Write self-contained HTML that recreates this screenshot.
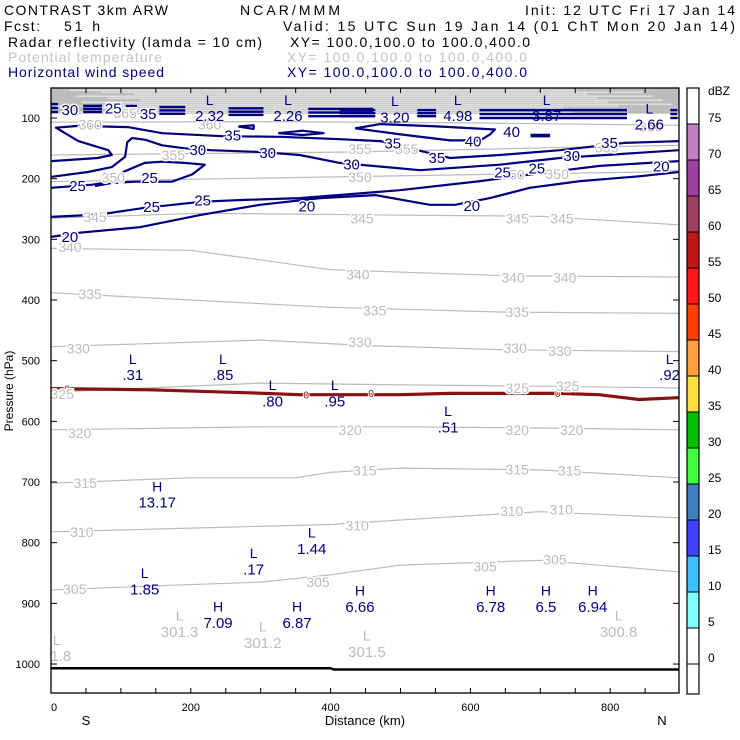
<!DOCTYPE html>
<html><head><meta charset="utf-8"><style>
body{margin:0;background:#fff;}
svg{display:block;font-family:"Liberation Sans",sans-serif;}
</style></head><body>
<svg id="c" width="740" height="740" viewBox="0 0 740 740">
<g font-size="14" lengthAdjust="spacing">
<text x="4" y="15" textLength="164">CONTRAST  3km ARW</text>
<text x="240" y="15" textLength="100">NCAR/MMM</text>
<text x="525" y="15" textLength="210">Init: 12 UTC Fri 17 Jan 14</text>
<text x="4" y="31" textLength="36">Fcst:</text>
<text x="64" y="31" textLength="36">51 h</text>
<text x="283" y="31" textLength="452">Valid: 15 UTC Sun 19 Jan 14 (01 ChT Mon 20 Jan 14)</text>
<text x="8" y="47" textLength="254">Radar reflectivity (lamda = 10 cm)</text>
<text x="290" y="47" textLength="240">XY= 100.0,100.0 to 100.0,400.0</text>
<text x="8" y="62" textLength="154" fill="#c4c4c4">Potential temperature</text>
<text x="287" y="62" textLength="240" fill="#c4c4c4">XY= 100.0,100.0 to 100.0,400.0</text>
<text x="8" y="77" textLength="156" fill="#000080">Horizontal wind speed</text>
<text x="287" y="77" textLength="240" fill="#000080">XY= 100.0,100.0 to 100.0,400.0</text>
</g>
<g id="plot"></g>
</svg>
<script>
// ---- data ----
const xTicksMinor=[0,50,100,150,200,250,300,350,400,450,500,550,600,650,700,750,800,850];
const xTickLabels=[0,200,400,600,800];
const pTicks=[100,200,300,400,500,600,700,800,900,1000];
const cbLevels=[75,70,65,60,55,50,45,40,35,30,25,20,15,10,5,0];
const cbColors=["#c080c0","#a040a0","#a04060","#c01818","#ff1818","#ff4000","#ffa040","#ffe040","#00c000","#40ff40","#4080c0","#4040ff","#40c0ff","#80ffff","#ffffff","#ffffff"];
const thetaLevels=[360,355,350,345,340,335,330,325,320,315,310,305];
const t360=[[0,107],[300,106],[600,108],[898,112]];
const t355=[[0,161],[430,156],[715,149],[898,145]];
const t350=[[0,205],[300,199],[570,194],[858,189],[898,186]];
const t345=[[0,265],[215,257],[500,260],[700,262],[898,276]];
const t340=[[0,315],[200,318],[400,350],[650,360],[898,362]];
const t335=[[0,388],[200,400],[400,412],[650,420],[898,422]];
const t330=[[0,477],[300,466],[450,475],[650,482],[898,485]];
const t325=[[0,552],[300,537],[500,540],[700,542],[898,545]];
const t320=[[0,614],[300,609],[500,609],[700,611],[898,614]];
const t315=[[0,702],[200,693],[350,693],[400,684],[500,677],[700,680],[898,693]];
const t310=[[0,782],[200,776],[400,770],[550,759],[700,749],[898,759]];
const t305=[[0,878],[150,871],[300,865],[400,853],[500,837],[700,829],[898,848]];
const w20=[[0,296],[41,289],[127,280],[213,260],[299,243],[385,232],[464,227],[542,243],[578,243],[628,232],[685,215],[757,204],[843,196],[898,189]];
const w25=[[0,263],[70,259],[134,248],[216,238],[277,235],[356,232],[499,219],[614,204],[700,191],[785,179],[898,171]];
const w25lobe=[[0,215],[59,210],[77,207],[87,197],[134,174],[159,172],[191,174],[220,177],[202,193],[173,205],[120,205],[87,207],[63,212]];
const w30=[[1,197],[53,189],[87,181],[106,164],[109,140],[116,133],[135,136],[159,145],[191,150],[229,153],[299,156],[356,161],[413,174],[528,186],[642,177],[728,166],[898,153]];
const w35=[[1,171],[67,166],[87,161],[82,153],[39,138],[7,116],[39,113],[110,115],[159,125],[245,130],[328,131],[413,135],[471,138],[528,154],[571,166],[642,161],[728,153],[821,141],[898,138]];
const w40=[[435,117],[471,110],[556,114],[635,119],[628,127],[614,137],[571,137],[500,127],[435,117]];
const w40b=[[268,114],[290,112],[290,118],[268,114]];
const w40c=[[325,125],[360,121],[390,125],[360,128],[325,125]];
const jetBars=[[0,10,77,90],[46,73,80,90],[107,123,80,93],[155,192,82,93],[254,304,84,95],[368,461,85,97],[413,464,87,97],[524,551,87,97],[613,824,87,100],[886,896,87,100],[686,714,128,130]];
const dbz0=[[0,546],[141,548],[284,553],[356,556],[499,556],[570,554],[641,554],[727,554],[784,556],[841,564],[898,561]];
const ground=[[0,1007],[400,1007],[405,1009],[898,1009]];
const extrema=[["L","2.32",227,70],["L","2.26",339,70],["L","3.20",492,72],["L","4.98",582,70],["L","3.87",709,70],["L","2.66",856,84],
["L",".31",117,497],["L",".85",246,497],["L",".80",317,540],["L",".95",406,540],["L",".51",568,583],["L",".92",885,497],
["H","13.17",152,707],["L","1.44",373,783],["L",".17",290,817],["L","1.85",134,850],["H","6.66",442,879],["H","7.09",239,905],["H","6.87",352,905],["H","6.78",629,879],["H","6.5",708,879],["H","6.94",775,879]];
const thetaMin=[["L","301.3",184,920],["L","301.2",303,938],["L","301.5",452,953],["L","300.8",812,920],["L","01.8",8,960]];
const windLabels=[["30",27,87],["25",89,84],["35",139,93],["35",260,129],["30",210,153],["30",310,158],["30",430,177],["25",141,199],["25",38,212],["25",144,247],["25",217,236],["20",366,246],["20",27,296],
["35",489,142],["40",604,139],["40",659,123],["35",552,166],["25",646,190],["25",695,183],["30",745,163],["35",799,141],["20",602,245],["20",873,180]];
const thetaLabels=[["360",56,111],["360",227,111],["365",106,92],["355",175,161],["355",442,151],["355",509,151],["355",795,149],["360",858,114],
["350",89,198],["350",442,197],["350",661,193],["350",724,192],["345",63,263],["345",445,266],["345",667,266],["345",731,266],
["340",27,313],["340",439,358],["340",661,363],["340",735,363],["335",56,390],["335",463,417],["335",667,420],["330",39,480],["330",442,469],["330",664,479],["330",728,484],
["325",16,555],["325",667,545],["325",739,542],["320",41,619],["320",428,614],["320",667,614],["320",745,614],["315",49,702],["315",449,681],["315",667,679],["315",742,681],
["310",44,782],["310",438,772],["310",659,748],["310",730,745],["305",34,876],["305",382,865],["305",621,839],["305",721,828]];
const zeroLabels=[[23,546],[365,556],[458,553],[725,553]];

// ---- axes ----
const L=51,R=679,T=88,B=693;
const X=km=>L+km*0.699;
const Y=p=>118+(p-100)*0.6067;
const NS="http://www.w3.org/2000/svg";
const plot=document.getElementById('plot');
function mk(tag,attrs,parent){const e=document.createElementNS(NS,tag);for(const k in attrs)e.setAttribute(k,attrs[k]);(parent||plot).appendChild(e);return e;}
function pts(a){return a.map(d=>X(d[0]).toFixed(1)+','+Y(d[1]).toFixed(1)).join(' ');}

const defs=mk('defs',{});
const cp=mk('clipPath',{id:'clip'},defs);mk('rect',{x:L,y:T,width:R-L,height:B-T},cp);
const g=mk('g',{'clip-path':'url(#clip)'});



// stratosphere gray band
const band=mk('rect',{x:L,y:T,width:R-L,height:Y(93)-T,fill:'#bdbdbd'},g);


for(let p=54;p<93;p+=3.3){const ln=mk('line',{x1:L+((p*37)%90),x2:R-((p*53)%120),y1:Y(p),y2:Y(p),stroke:'#fff','stroke-width':0.8},g);

}

const thetaSeries=[t360,t355,t350,t345,t340,t335,t330,t325,t320,t315,t310,t305];
thetaSeries.forEach((s,i)=>{const e=mk('polyline',{points:pts(s),fill:'none',stroke:'#bbbbbb','stroke-width':1.2},g);

});

[w20,w25,w25lobe,w30,w35,w40,w40b,w40c].forEach((s,i)=>{const e=mk('polyline',{points:pts(s),fill:'none',stroke:'#000080','stroke-width':2.2,'stroke-linejoin':'round'},g);

});

jetBars.forEach(b=>{const y1=Y(b[2]),y2=Y(b[3]);const n=Math.max(1,Math.round((y2-y1)/4));
for(let k=0;k<=n;k++){const yy=y1+(y2-y1)*k/n;const e=mk('line',{x1:X(b[0]),x2:X(b[1]),y1:yy,y2:yy,stroke:'#000080','stroke-width':2.4},g);

}});

const dz=mk('polyline',{points:pts(dbz0),fill:'none',stroke:'#8b1010','stroke-width':3.2},g);


zeroLabels.forEach(z=>{const t=mk('text',{x:X(z[0]),y:Y(z[1])+4,'font-size':10,fill:'#8b1010','text-anchor':'middle',stroke:'#fff','stroke-width':2,'paint-order':'stroke'},g);t.textContent='0';

});

const gr=mk('polyline',{points:pts(ground),fill:'none',stroke:'#000','stroke-width':2.5},g);



function label(txt,km,p,color,size,name){const t=mk('text',{x:X(km),y:Y(p)+5,'font-size':size,fill:color,'text-anchor':'middle',stroke:'#fff','stroke-width':3,'paint-order':'stroke'},g);t.textContent=txt;

return t;}
thetaLabels.forEach(d=>label(d[0],d[1],d[2],'#bbbbbb',14,'theta-contour-label'));
windLabels.forEach(d=>label(d[0],d[1],d[2],'#000080',15,'wind-contour-label'));
extrema.forEach(d=>{const a=label(d[0],d[2],d[3],'#000080',14,'extremum-symbol');a.setAttribute('stroke-width',0);
const b=label(d[1],d[2],d[3]+27,'#000080',15,'extremum-value');b.setAttribute('stroke-width',0);});
thetaMin.forEach(d=>{const a=label(d[0],d[2],d[3],'#bbbbbb',14,'theta-min-symbol');a.setAttribute('stroke-width',0);
const b=label(d[1],d[2],d[3]+27,'#bbbbbb',15,'theta-min-value');b.setAttribute('stroke-width',0);});

// frame
const fr=mk('rect',{x:L,y:T,width:R-L,height:B-T,fill:'none',stroke:'#000','stroke-width':1.3});


xTicksMinor.forEach(k=>{[[B,B-5],[T,T+5]].forEach(yy=>{const e=mk('line',{x1:X(k),x2:X(k),y1:yy[0],y2:yy[1],stroke:'#000'});

});});
xTickLabels.forEach(k=>{const t=mk('text',{x:X(k)+(k===0?3:0),y:711,'font-size':11,'text-anchor':'middle'});t.textContent=k;

});
pTicks.forEach(p=>{[[L,L+6],[R,R-6]].forEach(xx=>{const e=mk('line',{x1:xx[0],x2:xx[1],y1:Y(p),y2:Y(p),stroke:'#000'});

});
const t=mk('text',{x:40,y:Y(p)+4,'font-size':11,'text-anchor':'end'});t.textContent=p;

});
const xt=mk('text',{x:365,y:725,'font-size':13,'text-anchor':'middle'});xt.textContent='Distance (km)';


const s=mk('text',{x:86,y:725,'font-size':13,'text-anchor':'middle'});s.textContent='S';


const n=mk('text',{x:662,y:725,'font-size':13,'text-anchor':'middle'});n.textContent='N';


const yt=mk('text',{x:0,y:0,'font-size':12,'text-anchor':'middle',transform:'translate(13,391) rotate(-90)'});yt.textContent='Pressure (hPa)';



// colorbar
const cbX=687,cbW=12,cbTop=88,cbBot=694,cb0=124,cbStep=36;
cbLevels.forEach((lv,i)=>{const r=mk('rect',{x:cbX,y:cb0+i*cbStep-cbStep,width:cbW,height:cbStep,fill:i===0?'#fff':cbColors[i-1],stroke:'#000','stroke-width':1});

});
const rl=mk('rect',{x:cbX,y:cb0+15*cbStep,width:cbW,height:cbBot-(cb0+15*cbStep),fill:'#fff',stroke:'#000'});


const cbf=mk('rect',{x:cbX,y:cbTop,width:cbW,height:cbBot-cbTop,fill:'none',stroke:'#000','stroke-width':1.2});


cbLevels.forEach((lv,i)=>{const t=mk('text',{x:708,y:cb0+i*cbStep-2,'font-size':12});t.textContent=lv;

});
const u=mk('text',{x:708,y:95,'font-size':12});u.textContent='dBZ';


</script>
</body></html>
